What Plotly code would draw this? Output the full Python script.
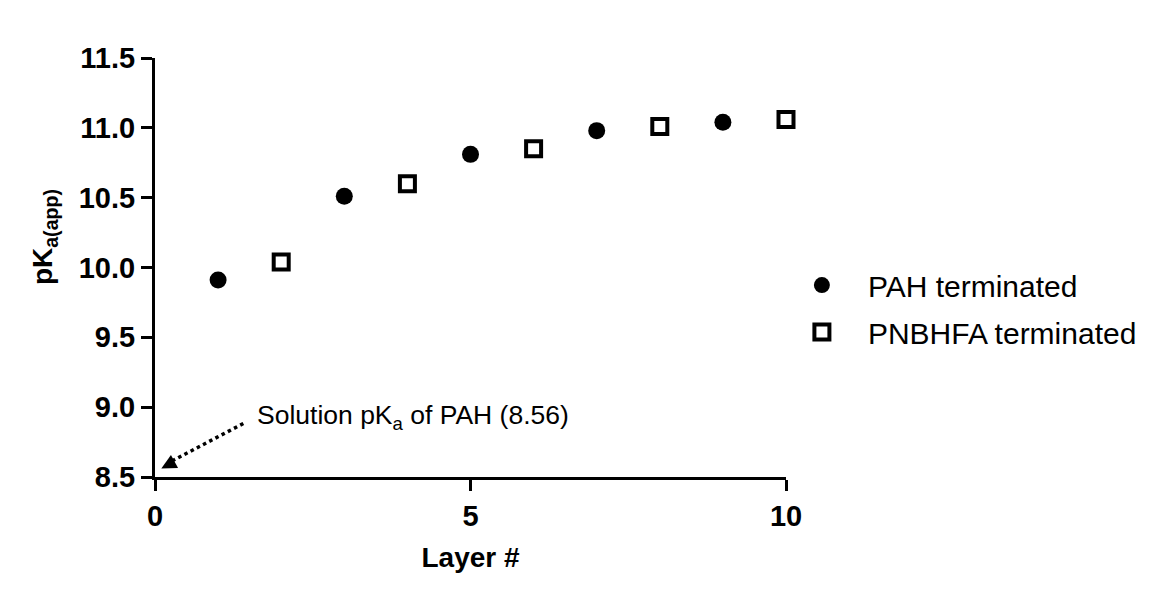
import plotly.graph_objects as go

# Layer number vs apparent pKa
pah_layers = [1, 3, 5, 7, 9]
pah_pka = [9.91, 10.51, 10.81, 10.98, 11.04]

pnbhfa_layers = [2, 4, 6, 8, 10]
pnbhfa_pka = [10.04, 10.60, 10.85, 11.01, 11.06]

x_ticks = [0, 5, 10]
y_ticks = [8.5, 9.0, 9.5, 10.0, 10.5, 11.0, 11.5]

solution_pka = 8.56

FONT = "Arial, Liberation Sans, sans-serif"

fig = go.Figure()
fig.add_trace(go.Scatter(x=pah_layers, y=pah_pka, mode="markers",
                         name="PAH terminated", legendgroup="a",
                         marker=dict(symbol="circle", size=17, color="black"),
                         cliponaxis=False))
fig.add_trace(go.Scatter(x=pnbhfa_layers, y=pnbhfa_pka, mode="markers",
                         name="PNBHFA terminated", legendgroup="b",
                         marker=dict(symbol="square-open", size=15, color="black",
                                     line=dict(color="black", width=4)),
                         cliponaxis=False))

# dotted pointer to the solution pKa
fig.add_shape(type="line", xref="x", yref="y",
              x0=0.27, y0=8.615, x1=1.43, y1=8.89,
              line=dict(color="black", width=3.5, dash="dot"))
fig.add_annotation(x=0.1, y=solution_pka, xref="x", yref="y", text=" ",
                   showarrow=True, arrowhead=2, arrowsize=1, arrowwidth=3,
                   arrowcolor="black", ax=13, ay=-7, standoff=0)
fig.add_annotation(x=1.58, y=8.93, xref="x", yref="y",
                   text="Solution pK<sub>a</sub> of PAH (8.56)",
                   showarrow=False, xanchor="left", yanchor="middle",
                   font=dict(family=FONT, size=26.5, color="black"))

# y axis title placed by hand (sits above the plot middle in the original)
fig.add_annotation(x=-0.174, y=0.573, xref="paper", yref="paper",
                   text="<b>pK<sub>a(app)</sub></b>", textangle=-90,
                   showarrow=False, xanchor="center", yanchor="middle",
                   font=dict(family=FONT, size=28, color="black"))

axis_style = dict(showline=True, linewidth=3, linecolor="black", mirror=False,
                  ticks="outside", ticklen=11, tickwidth=3, tickcolor="black",
                  showgrid=False, zeroline=False,
                  tickfont=dict(family=FONT, size=29, color="black", weight="bold"))

fig.update_xaxes(range=[0, 10], tickvals=x_ticks,
                 title=dict(text="<b>Layer #</b>", standoff=17,
                            font=dict(family=FONT, size=28, color="black")),
                 **axis_style)
fig.update_yaxes(range=[8.5, 11.5], tickvals=y_ticks, tickformat=".1f",
                 **axis_style)

# page body adds ~8px offset, so margins are shifted to compensate
fig.update_layout(
    width=1175,
    height=602,
    margin=dict(l=147, r=397, t=50, b=133),
    plot_bgcolor="white",
    paper_bgcolor="white",
    showlegend=True,
    legend=dict(x=0.984, y=0.402, xanchor="left", yanchor="middle",
                traceorder="grouped", tracegroupgap=5, itemwidth=82,
                font=dict(family=FONT, size=30, color="black"),
                bgcolor="rgba(0,0,0,0)"),
)

fig.write_html("out.html")
